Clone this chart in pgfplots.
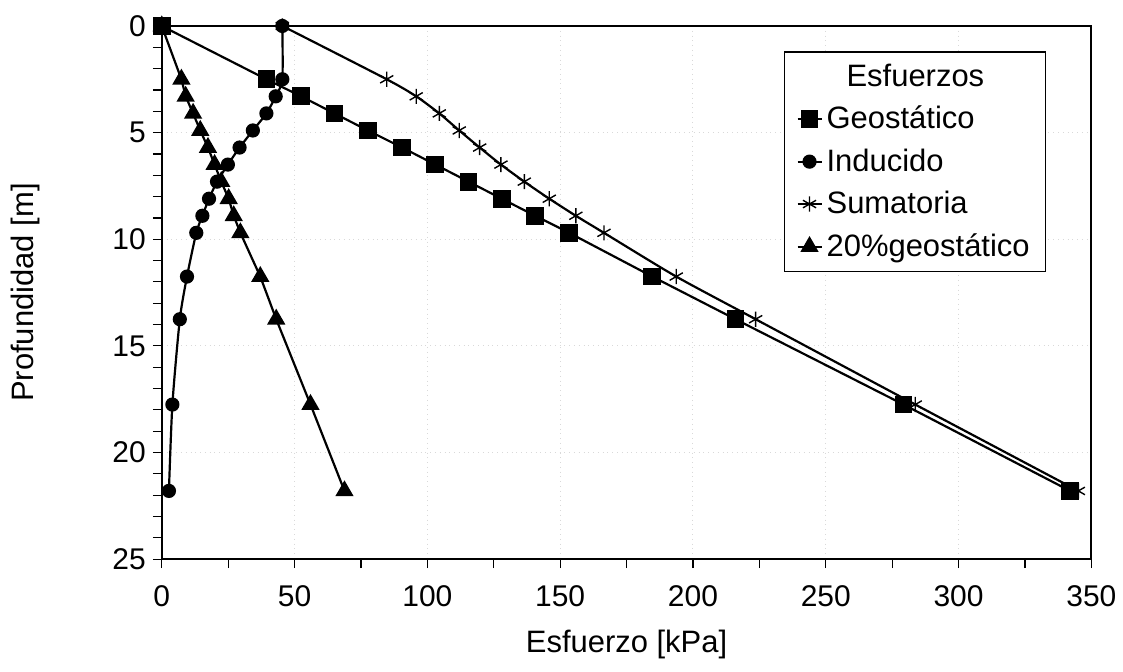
\documentclass[border=0pt]{standalone}
\usepackage{fontspec}
\setmainfont{Liberation Sans}
\usepackage{pgfplots}
\usepackage{pgfplotstable}
\pgfplotsset{compat=1.18}

% z [m], esfuerzos [kPa]
\pgfplotstableread{
z     geo    ind   sum    veinte
0     0      45.4  45.4   0
2.5   39.4   45.4  84.7   7.4
3.3   52.5   42.9  95.8   9.0
4.1   65.0   39.4  104.5  11.8
4.9   77.6   34.3  112.0  14.5
5.7   90.5   29.3  119.7  17.4
6.5   103.0  24.9  127.7  19.9
7.3   115.5  20.8  136.5  22.4
8.1   128.0  17.8  145.9  25.2
8.9   140.6  15.3  155.9  27.1
9.7   153.4  13.0  166.5  29.6
11.75 184.7  9.5   193.7  37.1
13.75 216.0  6.8   223.6  43.1
17.75 279.3  4.0   283.7  56.0
21.8  342.0  2.7   345.1  68.8
}\datos

\begin{document}
\begin{tikzpicture}
\begin{axis}[
    name=ax,
    scale only axis,
    width=465.5pt, height=267pt,
    xmin=0, xmax=350, ymin=0, ymax=25,
    y dir=reverse,
    xtick={0,50,...,350}, ytick={0,5,...,25},
    minor x tick num=1, minor y tick num=4,
    tick pos=left, tick align=outside,
    major tick length=4.5pt, minor tick length=4.5pt,
    axis line style={line width=0.9pt},
    every tick/.style={black, line width=0.6pt},
    grid=major,
    major grid style={gray!30, dotted, line width=0.5pt},
    /pgf/number format/assume math mode=true,
    tick label style={font=\fontsize{15}{17}\selectfont},
    xticklabel style={yshift=-5pt},
    label style={font=\fontsize{15.5}{18}\selectfont},
    xlabel={Esfuerzo [kPa]},
    ylabel={Profundidad [m]},
    xlabel style={at={(axis description cs:0.5,-0.16)}, anchor=center},
    ylabel style={at={(axis description cs:-0.147,0.5)}, anchor=center},
    legend cell align=left,
    legend style={at={(0.669,0.953)}, anchor=north west, draw=black,
        line width=0.8pt, fill=white, font=\fontsize{15.5}{18}\selectfont,
        row sep=4.5pt, inner xsep=6pt, inner ysep=4pt},
    legend image code/.code={
        \draw[mark repeat=2, mark phase=2] plot coordinates {(0pt,0pt) (6pt,0pt) (12pt,0pt)};
    },
]
\addlegendimage{empty legend}
\addlegendentry{\hspace{10pt}Esfuerzos}

\addplot[black, line width=1.1pt, mark=square*, mark size=3.9pt]
    table[x=geo, y=z] {\datos};
\addlegendentry{Geostático}

\addplot[black, line width=1.1pt, smooth, tension=0.4, mark=*, mark size=3pt]
    table[x=ind, y=z] {\datos};
\addlegendentry{Inducido}

\addplot[black, line width=1.1pt, smooth, tension=0.4, mark=asterisk, mark size=3.8pt,
    mark options={line width=0.7pt}]
    table[x=sum, y=z] {\datos};
\addlegendentry{Sumatoria}

\addplot[black, line width=1.1pt, mark=triangle*, mark size=4.2pt]
    table[x=veinte, y=z] {\datos};
\addlegendentry{20\%geostático}
\end{axis}
\path ([shift={(-81pt,-56.5pt)}]ax.south west) rectangle ([shift={(15pt,13pt)}]ax.north east);
\end{tikzpicture}
\end{document}
